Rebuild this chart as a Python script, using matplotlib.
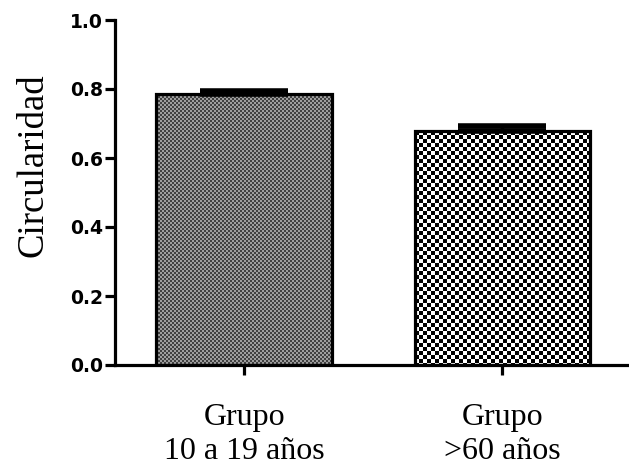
import numpy as np
import matplotlib
matplotlib.use("Agg")
import matplotlib.pyplot as plt

# data
groups = ["Grupo\n10 a 19 años", "Grupo\n>60 años"]
means = [0.785, 0.678]
sem = [0.010, 0.016]
y_ticks = [0.0, 0.2, 0.4, 0.6, 0.8, 1.0]

# texture for each bar: (cell size in px, dark value, light value)
textures = [(2, 0.25, 0.62), (4, 0.0, 1.0)]

fig = plt.figure(figsize=(6.29, 4.74), dpi=100)
ax = fig.add_axes([115 / 629, 109 / 474, 514 / 629, 345 / 474])

pos = np.arange(len(groups))
width = 0.68
ax.set_xlim(-0.5, 1.49)
ax.set_ylim(0, 1.0)

bars = ax.bar(pos, means, width, facecolor="none", edgecolor="black",
              linewidth=2.3, zorder=3)

# fill each bar with a pixel checker pattern clipped to the bar
for bar, (cell, lo, hi) in zip(bars, textures):
    x0 = bar.get_x()
    x1 = x0 + bar.get_width()
    h = bar.get_height()
    p0 = ax.transData.transform((x0, 0))
    p1 = ax.transData.transform((x1, h))
    nx = int(round(abs(p1[0] - p0[0])))
    ny = int(round(abs(p1[1] - p0[1])))
    ii, jj = np.indices((ny, nx))
    tex = np.where(((ii // cell) + (jj // cell)) % 2 == 0, lo, hi)
    im = ax.imshow(tex, extent=(x0, x1, 0, h), cmap="gray", vmin=0, vmax=1,
                   interpolation="nearest", aspect="auto", zorder=2)
    im.set_clip_path(bar)

ax.set_xlim(-0.5, 1.49)
ax.set_ylim(0, 1.0)

ax.errorbar(pos, means, yerr=[np.zeros(len(sem)), sem], fmt="none",
            ecolor="black", elinewidth=2.5, capsize=32, capthick=4, zorder=4)

for side in ["top", "right"]:
    ax.spines[side].set_visible(False)
for side in ["left", "bottom"]:
    ax.spines[side].set_linewidth(2.3)
ax.spines["left"].set_bounds(0, 1.0)

ax.set_yticks(y_ticks)
ax.set_yticklabels(["%.1f" % t for t in y_ticks], fontweight="bold",
                   fontsize=13.5, family="DejaVu Sans")
ax.tick_params(axis="y", direction="out", length=7, width=2.3, pad=1.5)

ax.set_xticks(pos)
ax.set_xticklabels(groups, family="Liberation Serif", fontsize=23,
                   linespacing=1.25)
ax.tick_params(axis="x", direction="out", length=7, width=2.3, pad=20)

ax.set_ylabel("Circularidad", family="Liberation Serif", fontsize=26.5)
ax.yaxis.set_label_coords(-0.126, 0.58)

fig.savefig("out.png", dpi=100)
